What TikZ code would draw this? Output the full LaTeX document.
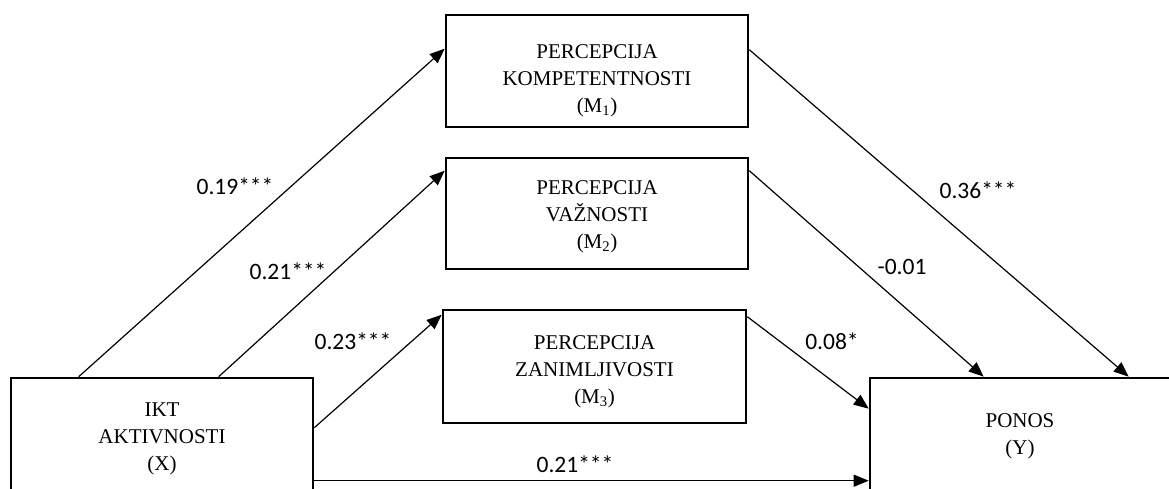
\documentclass[tikz,border=0pt]{standalone}
\usepackage{fontspec}
\setmainfont{Liberation Serif}
\newfontfamily\coeffont{Carlito}
\usetikzlibrary{arrows.meta,positioning,calc}
\definecolor{lineblack}{HTML}{000000}
\tikzset{
  varbox/.style={draw=lineblack, line width=2.6pt, rectangle, inner sep=0pt},
  vartext/.style={align=center, inner sep=0pt, font=\fontsize{21}{27}\selectfont},
  arr/.style={-{Triangle[length=15pt,width=12pt]}, line width=1.2pt, draw=lineblack},
  coef/.style={inner sep=0pt, font=\coeffont\fontsize{23.5}{28}\selectfont}
}
\begin{document}
\begin{tikzpicture}[x=1pt, y=-1pt]
    \useasboundingbox (0,0) rectangle (1169,489);
    \clip (0,0) rectangle (1169,489);
    % variable boxes
    \node[varbox, minimum width=302pt, minimum height=112pt] (m1) at (597,71) {};
    \node[varbox, minimum width=302pt, minimum height=111pt] (m2) at (597,213.5) {};
    \node[varbox, minimum width=303pt, minimum height=113pt] (m3) at (594.5,366.5) {};
    \node[varbox, minimum width=302pt, minimum height=160pt] (x) at (162,458) {};
    \node[varbox, minimum width=302pt, minimum height=160pt] (y) at (1021,458) {};
    \node[vartext] (m1t) at (597,81) {PERCEPCIJA\\KOMPETENTNOSTI\\(M\textsubscript{1})};
    \node[vartext] (m2t) at (597,217) {PERCEPCIJA\\VAŽNOSTI\\(M\textsubscript{2})};
    \node[vartext] (m3t) at (594.5,371.5) {PERCEPCIJA\\ZANIMLJIVOSTI\\(M\textsubscript{3})};
    \node[vartext] (xt) at (162,438.5) {IKT\\AKTIVNOSTI\\(X)};
    \node[vartext] (yt) at (1020,436) {PONOS\\(Y)};
    % paths
    \draw[arr] ([xshift=69pt]x.north west) -- ([yshift=-35pt]m1.north west);
    \draw[arr] ([xshift=209pt]x.north west) -- ([yshift=-14pt]m2.north west);
    \draw[arr] ([yshift=-51pt]x.north east) -- ([yshift=-6pt]m3.north west);
    \draw[arr] ([yshift=-104pt]x.north east) -- ([yshift=-104pt]y.north west);
    \draw[arr] ([yshift=-36pt]m1.north east) -- ([xshift=260pt]y.north west);
    \draw[arr] ([yshift=-14pt]m2.north east) -- ([xshift=115pt]y.north west);
    \draw[arr] ([yshift=-8pt]m3.north east) -- ([yshift=-32pt]y.north west);
    % coefficients
    \node[coef] (a1) at (235,186) {0.19***};
    \node[coef] (a2) at (288,271) {0.21***};
    \node[coef] (a3) at (353,341) {0.23***};
    \node[coef] (b1) at (978,190) {0.36***};
    \node[coef] (b2) at (902,267) {-0.01};
    \node[coef] (b3) at (832,341) {0.08*};
    \node[coef] (c) at (575,464) {0.21***};
\end{tikzpicture}
\end{document}
